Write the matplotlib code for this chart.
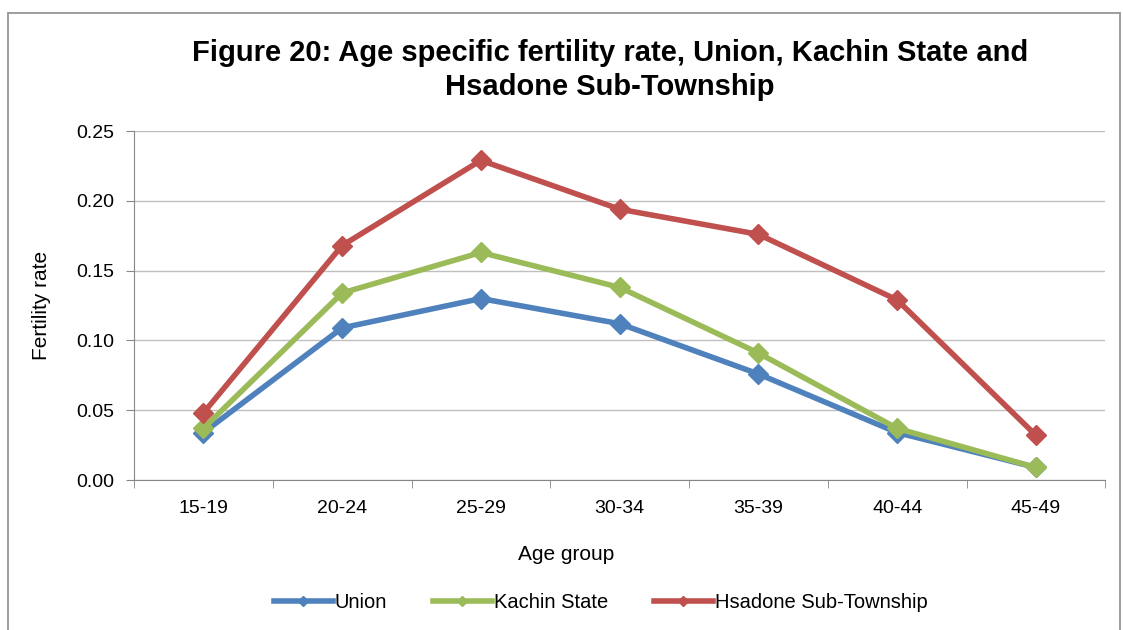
import numpy as np
import matplotlib.pyplot as plt
from matplotlib.patches import Rectangle

plt.rcParams['font.family'] = ['Liberation Sans', 'DejaVu Sans']

age_groups = ['15-19', '20-24', '25-29', '30-34', '35-39', '40-44', '45-49']
union = [0.034, 0.109, 0.130, 0.112, 0.076, 0.034, 0.009]
kachin = [0.037, 0.134, 0.163, 0.138, 0.091, 0.037, 0.009]
hsadone = [0.048, 0.168, 0.229, 0.194, 0.176, 0.129, 0.032]

series = [('Union', union, '#4F81BD'),
          ('Kachin State', kachin, '#9BBB59'),
          ('Hsadone Sub-Township', hsadone, '#C0504D')]

fig = plt.figure(figsize=(11.23, 6.3), dpi=100)
ax = fig.add_axes([0.1193, 0.238, 0.865, 0.554])

# outer chart border
fig.patches.append(Rectangle((0.007, -0.01), 0.99, 0.99, transform=fig.transFigure,
                             fill=False, edgecolor='#8c8c8c', linewidth=1.2))

x = np.arange(len(age_groups))
for name, vals, col in series:
    ax.plot(x, vals, color=col, linewidth=4, marker='D', markersize=10,
            label=name, solid_joinstyle='round')

ax.set_xlim(-0.5, len(age_groups) - 0.5)
ax.set_ylim(0, 0.25)
ax.set_yticks(np.arange(0, 0.2501, 0.05))
ax.set_yticklabels(['%.2f' % v for v in np.arange(0, 0.2501, 0.05)])
ax.yaxis.grid(True, color='#bfbfbf', linewidth=1)
ax.set_axisbelow(True)

ax.set_xticks(x)
ax.set_xticklabels(age_groups)
ax.set_xticks(np.arange(-0.5, len(age_groups)), minor=True)
ax.tick_params(axis='x', which='major', length=0, pad=14, labelsize=14)
ax.tick_params(axis='x', which='minor', length=6, color='#868686')
ax.tick_params(axis='y', length=6, color='#868686', labelsize=14, pad=8)

for s in ['top', 'right']:
    ax.spines[s].set_visible(False)
for s in ['left', 'bottom']:
    ax.spines[s].set_color('#868686')

ax.set_xlabel('Age group', fontsize=15)
ax.xaxis.set_label_coords(0.445, -0.187)
ax.set_ylabel('Fertility rate', fontsize=15)
ax.yaxis.set_label_coords(-0.085, 0.5)

fig.suptitle('Figure 20: Age specific fertility rate, Union, Kachin State and\nHsadone Sub-Township',
             x=0.543, y=0.938, fontsize=21, fontweight='bold', linespacing=1.28)

fig.legend(loc='center', bbox_to_anchor=(0.535, 0.044), ncol=3, frameon=False,
           fontsize=14.5, handlelength=2.9, columnspacing=2.3, markerscale=0.5,
           handletextpad=0.1)

fig.savefig('out.png', dpi=100)
